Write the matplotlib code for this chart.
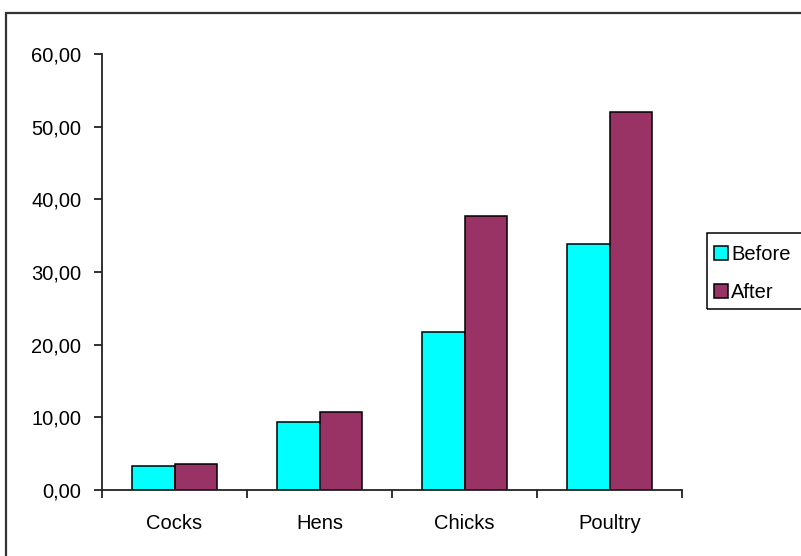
import matplotlib
matplotlib.use("Agg")
import matplotlib.pyplot as plt
import matplotlib.ticker as mticker
from matplotlib.patches import Rectangle, Patch
import numpy as np

# data
categories = ["Cocks", "Hens", "Chicks", "Poultry"]
before = [3.3, 9.4, 21.8, 33.9]
after = [3.6, 10.8, 37.7, 52.0]
yticks = [0, 10, 20, 30, 40, 50, 60]

plt.rcParams['font.family'] = ['Liberation Sans', 'DejaVu Sans']

W, H = 801, 556
fig = plt.figure(figsize=(W / 100, H / 100), dpi=100)
fig.patch.set_facecolor("white")

# plot area in pixel coords of the reference
left, right, top, bottom = 102, 682, 54, 490
ax = fig.add_axes([left / W, 1 - bottom / H, (right - left) / W, (bottom - top) / H])

x = np.arange(len(categories))
w = 0.293
ax.bar(x - w / 2, before, width=w, color="#00FFFF", edgecolor="black", linewidth=1.1, label="Before")
ax.bar(x + w / 2, after, width=w, color="#993366", edgecolor="black", linewidth=1.1, label="After")

ax.set_xlim(-0.5, len(categories) - 0.5)
ax.set_ylim(0, 60)
ax.set_yticks(yticks)
ax.yaxis.set_major_formatter(mticker.FuncFormatter(lambda v, p: ("%.2f" % v).replace(".", ",")))

# category ticks between groups, labels centred
ax.set_xticks(np.arange(-0.5, len(categories), 1.0))
ax.set_xticklabels([])
ax.set_xticks(x, minor=True)
ax.set_xticklabels(categories, minor=True)
ax.tick_params(axis="x", which="minor", length=0, pad=17, labelsize=14.5)
ax.tick_params(axis="x", which="major", length=6, width=1.3, color="#222222", direction="out")
ax.tick_params(axis="y", length=6, width=1.3, color="#222222", labelsize=14.5, pad=9)

for s in ["top", "right"]:
    ax.spines[s].set_visible(False)
for s in ["left", "bottom"]:
    ax.spines[s].set_linewidth(1.3)
    ax.spines[s].set_color("#222222")

# outer chart border (runs off the right/bottom edge)
fig.patches.append(Rectangle((6 / W, -0.1), 1.2, 1 - 13 / H + 0.1, transform=fig.transFigure,
                             fill=False, edgecolor="#333333", linewidth=1.6))

# legend box also runs off the right edge
lx0, ly0, ly1 = 707, 233, 309
fig.patches.append(Rectangle((lx0 / W, 1 - ly1 / H), 0.3, (ly1 - ly0) / H, transform=fig.transFigure,
                             fill=False, edgecolor="black", linewidth=1.1))
handles = [Patch(facecolor="#00FFFF", edgecolor="black", linewidth=1.1),
           Patch(facecolor="#993366", edgecolor="black", linewidth=1.1)]
fig.legend(handles, ["Before", "After"], loc="upper left", bbox_to_anchor=(714 / W, 1 - 245 / H),
           frameon=False, fontsize=14.5, handlelength=0.7, handleheight=0.7, handletextpad=0.15,
           labelspacing=0.95, borderpad=0, borderaxespad=0)

fig.savefig("out.png", dpi=100)
